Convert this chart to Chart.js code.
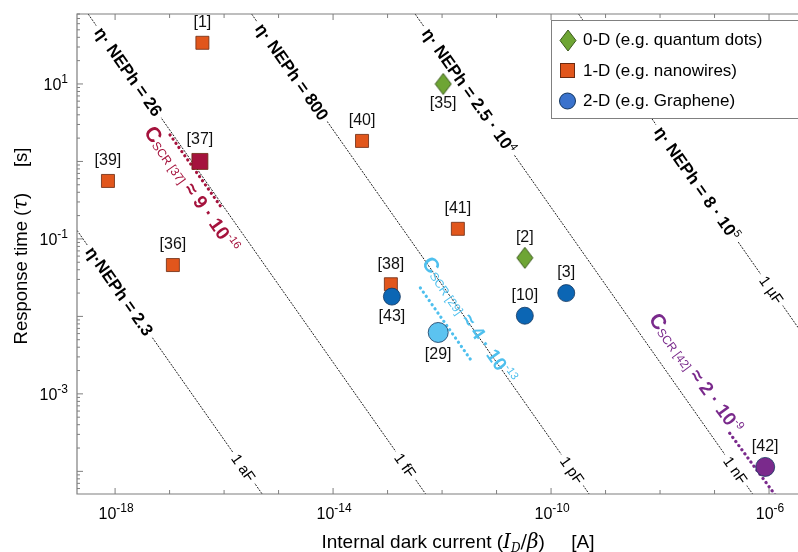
<!DOCTYPE html>
<html>
<head>
<meta charset="utf-8">
<script src="https://cdn.jsdelivr.net/npm/chart.js@4.4.1/dist/chart.umd.min.js"></script>
<style>
  html, body { margin: 0; padding: 0; background: #fff; overflow: hidden; }
  canvas { display: block; }
</style>
</head>
<body>
<canvas id="chart" width="798" height="552"></canvas>
<script>
// ── Data ──
// 0-D (quantum dots)
const refs0D = ['[35]', '[2]'];
const current0D = [1.05e-12, 3.3e-11];
const tau0D = [10, 0.057];
const side0D = [-1, 1];           // 1 = label above, -1 = below

// 1-D (nanowires)
const refs1D = ['[1]', '[39]', '[37]', '[36]', '[40]', '[41]', '[38]'];
const current1D = [4.0e-17, 7.4e-19, 3.6e-17, 1.15e-17, 3.4e-14, 1.95e-12, 1.15e-13];
const tau1D = [34, 0.56, 1.0, 0.046, 1.84, 0.135, 0.026];
const side1D = [1, 1, 1, 1, 1, 1, 1];

// 2-D (graphene)
const refs2D = ['[43]', '[3]', '[10]', '[29]', '[42]'];
const current2D = [1.2e-13, 1.9e-10, 3.3e-11, 8.5e-13, 8.5e-7];
const tau2D = [0.018, 0.020, 0.0102, 0.0062, 1.14e-4];
const side2D = [-1, 1, 1, -1, 1];

// iso-capacitance lines (end points)
const capNames = ['1 aF', '1 fF', '1 pF', '1 nF', '1 µF'];
const nephMantissa = ['2.3', '26', '800', '2.5 · 10', '8 · 10'];
const nephExp = ['', '', '', '4', '5'];
const nephPrefix = ['η·NEPh = ', 'η· NEPh = ', 'η· NEPh = ', 'η· NEPh = ', 'η· NEPh = '];
const capStartI = [2.0e-19, 3.2e-19, 3.2e-16, 3.2e-13, 3.2e-10];
const capStartTau = [0.129, 80, 80, 80, 80];
const capEndI = [5.0e-16, 5.0e-13, 5.0e-10, 5.0e-7, 3.4e-6];
const capEndTau = [5.1e-5, 5.1e-5, 5.1e-5, 5.1e-5, 7.2e-3];

// space-charge-region capacitance estimates
const scrRefs = ['[37]', '[29]', '[42]'];
const scrMantissa = ['9', '4', '2'];
const scrExp = ['-16', '-13', '-9'];
const scrStartI = [1.02e-17, 4.0e-13, 1.9e-7];
const scrStartTau = [2.2, 0.0233, 3.1e-4];
const scrEndI = [9.1e-17, 3.7e-12, 1.4e-6];
const scrEndTau = [0.25, 2.5e-3, 4.6e-5];
const scrLabelI = [2.6e-17, 3.2e-12, 4.6e-8];
const scrLabelTau = [0.44, 0.009, 1.86e-3];

// axis ranges and labelled decades
const X_MIN = 2.0e-19, X_MAX = 3.4e-6;
const Y_MIN = 5.1e-5, Y_MAX = 80;
const xLabelExp = [-18, -14, -10, -6];
const yLabelExp = [1, -1, -3];

// ── Styling ──
const FONT = '"Liberation Sans", Arial, sans-serif';
const ORANGE = '#e1561c', CRIMSON = '#a5133d', GREEN = '#6ea534';
const BLUE = '#0c66b4', LIGHTBLUE = '#5cc3f0', PURPLE = '#7a2a8c', LEGEND_BLUE = '#3a72cc';
const scrColors = [CRIMSON, '#4fc0ee', PURPLE];
const nephT = [0.23, 0.12, 0.12, 0.16, 0.54];
const capT = [0.90, 0.94, 0.95, 0.95, 0.88];

const fill1D = refs1D.map(r => r === '[37]' ? CRIMSON : ORANGE);
const size1D = refs1D.map(r => r === '[37]' ? 11.3 : 9.2);
const fill2D = refs2D.map(r => r === '[29]' ? LIGHTBLUE : r === '[42]' ? PURPLE : BLUE);
const size2D = refs2D.map(r => r === '[29]' ? 10 : r === '[42]' ? 9.5 : 8.5);

function makeDiamond(w, h, fill, stroke) {
    const c = document.createElement('canvas');
    c.width = w + 2; c.height = h + 2;
    const g = c.getContext('2d');
    g.beginPath();
    g.moveTo(c.width / 2, 1);
    g.lineTo(c.width - 1, c.height / 2);
    g.lineTo(c.width / 2, c.height - 1);
    g.lineTo(1, c.height / 2);
    g.closePath();
    g.fillStyle = fill; g.fill();
    g.lineWidth = 1; g.strokeStyle = stroke; g.stroke();
    return c;
}
const diamond = makeDiamond(16, 21, GREEN, '#3b5a1c');

// rich text drawn centred on (x, y) and rotated by angle
function drawRich(ctx, parts, x, y, angle, base, bg) {
    ctx.save();
    ctx.translate(x, y);
    ctx.rotate(angle);
    let total = 0;
    parts.forEach(p => { ctx.font = p.font; p.w = ctx.measureText(p.t).width; total += p.w; });
    if (bg) {
        ctx.fillStyle = '#fff';
        ctx.fillRect(-total / 2 - bg, -9, total + 2 * bg, 18);
    }
    let cx = -total / 2;
    ctx.textBaseline = 'alphabetic';
    ctx.textAlign = 'left';
    parts.forEach(p => {
        ctx.font = p.font;
        ctx.fillStyle = p.color || '#000';
        ctx.fillText(p.t, cx, base + (p.dy || 0));
        cx += p.w;
    });
    ctx.restore();
}

function linePixels(chart, i1, t1, i2, t2) {
    const xs = chart.scales.x, ys = chart.scales.y;
    return [xs.getPixelForValue(i1), ys.getPixelForValue(t1), xs.getPixelForValue(i2), ys.getPixelForValue(t2)];
}

// ── Datasets ──
const datasets = [];
capNames.forEach((name, i) => {
    datasets.push({
        label: name,
        data: [{ x: capStartI[i], y: capStartTau[i] }, { x: capEndI[i], y: capEndTau[i] }],
        showLine: true, pointRadius: 0, borderColor: '#1e1e1e', borderWidth: 1,
        borderDash: [2, 1.2], order: 100
    });
});
scrRefs.forEach((r, i) => {
    datasets.push({
        label: 'C_SCR ' + r,
        data: [{ x: scrStartI[i], y: scrStartTau[i] }, { x: scrEndI[i], y: scrEndTau[i] }],
        showLine: true, pointRadius: 0, borderColor: scrColors[i], borderWidth: 3.2,
        borderDash: [0.1, 5], borderCapStyle: 'round', order: 50
    });
});
datasets.push({
    label: '1-D', data: current1D.map((v, i) => ({ x: v, y: tau1D[i] })),
    pointStyle: 'rect', pointRadius: size1D, backgroundColor: fill1D,
    borderColor: '#6b2a10', borderWidth: 0.8, order: 3
});
datasets.push({
    label: '0-D', data: current0D.map((v, i) => ({ x: v, y: tau0D[i] })),
    pointStyle: diamond, pointRadius: 10, order: 2
});
datasets.push({
    label: '2-D', data: current2D.map((v, i) => ({ x: v, y: tau2D[i] })),
    pointStyle: 'circle', pointRadius: size2D, backgroundColor: fill2D,
    borderColor: '#13365e', borderWidth: 0.8, order: 1
});

// ── Overlay: ticks, labels, legend ──
const overlay = {
    id: 'overlay',
    afterDatasetDraw(chart, args) {
        if (args.index !== 0) return;
        // labels on the iso-capacitance lines (drawn before the markers)
        const ctx = chart.ctx;
        capNames.forEach((name, i) => {
            const [x1, y1, x2, y2] = linePixels(chart, capStartI[i], capStartTau[i], capEndI[i], capEndTau[i]);
            const ang = Math.atan2(y2 - y1, x2 - x1);
            const bold = 'bold 17px ' + FONT;
            const np = [{ t: nephPrefix[i] + nephMantissa[i], font: bold }];
            if (nephExp[i]) np.push({ t: nephExp[i], font: '11px ' + FONT, dy: -7 });
            drawRich(ctx, np, x1 + nephT[i] * (x2 - x1), y1 + nephT[i] * (y2 - y1), ang, 6, 4);
            drawRich(ctx, [{ t: name, font: '15px ' + FONT }],
                x1 + capT[i] * (x2 - x1), y1 + capT[i] * (y2 - y1), ang, 5.5, 4);
        });
    },
    afterDraw(chart) {
        const ctx = chart.ctx, a = chart.chartArea;
        const xs = chart.scales.x, ys = chart.scales.y;

        // space-charge capacitance labels
        scrRefs.forEach((r, i) => {
            const [x1, y1, x2, y2] = linePixels(chart, scrStartI[i], scrStartTau[i], scrEndI[i], scrEndTau[i]);
            const ang = Math.atan2(y2 - y1, x2 - x1);
            const c = scrColors[i];
            drawRich(ctx, [
                { t: 'C', font: 'bold 21px ' + FONT, color: c },
                { t: 'SCR ' + r, font: '12px ' + FONT, color: c, dy: 1 },
                { t: ' ≈ ' + scrMantissa[i] + ' · 10', font: 'bold 19px ' + FONT, color: c },
                { t: scrExp[i], font: '11px ' + FONT, color: c, dy: -8 }
            ], xs.getPixelForValue(scrLabelI[i]), ys.getPixelForValue(scrLabelTau[i]), ang, 7, 0);
        });

        // reference labels next to markers
        ctx.font = '16px ' + FONT;
        ctx.fillStyle = '#111';
        ctx.textAlign = 'center';
        ctx.textBaseline = 'middle';
        const put = (refs, cur, tau, side) => refs.forEach((r, i) => {
            const big = (r === '[37]' || r === '[29]') ? 2 : 0;
            ctx.fillText(r, xs.getPixelForValue(cur[i]), ys.getPixelForValue(tau[i]) - side[i] * (20 + big));
        });
        put(refs0D, current0D, tau0D, side0D);
        put(refs1D, current1D, tau1D, side1D);
        put(refs2D, current2D, tau2D, side2D);

        // axes frame (left, bottom, top)
        ctx.save();
        ctx.strokeStyle = '#7f7f7f';
        ctx.lineWidth = 1.2;
        ctx.beginPath();
        ctx.moveTo(a.right + 2, a.top); ctx.lineTo(a.left, a.top);
        ctx.lineTo(a.left, a.bottom); ctx.lineTo(a.right + 2, a.bottom);
        ctx.stroke();

        // inward tick marks
        ctx.lineWidth = 1;
        ctx.beginPath();
        for (let e = -19; e <= -5; e++) {
            const px = xs.getPixelForValue(Math.pow(10, e));
            if (px < a.left || px > a.right) continue;
            const len = xLabelExp.includes(e) ? 6 : 4;
            ctx.moveTo(px, a.bottom); ctx.lineTo(px, a.bottom - len);
            ctx.moveTo(px, a.top); ctx.lineTo(px, a.top + len);
        }
        for (let e = -5; e <= 1; e++) {
            for (let m = 1; m <= 9; m++) {
                const v = m * Math.pow(10, e);
                const py = ys.getPixelForValue(v);
                if (py < a.top || py > a.bottom) continue;
                const len = m === 1 ? 6 : 3;
                ctx.moveTo(a.left, py); ctx.lineTo(a.left + len, py);
            }
        }
        ctx.stroke();
        ctx.restore();

        // tick labels
        xLabelExp.forEach(e => {
            drawRich(ctx, [{ t: '10', font: '16px ' + FONT }, { t: String(e), font: '12px ' + FONT, dy: -7 }],
                xs.getPixelForValue(Math.pow(10, e)) + 1, 513, 0, 6, 0);
        });
        yLabelExp.forEach(e => {
            ctx.save();
            ctx.font = '12px ' + FONT;
            const ws = ctx.measureText(String(e)).width;
            ctx.font = '16px ' + FONT;
            const wb = ctx.measureText('10').width;
            ctx.restore();
            drawRich(ctx, [{ t: '10', font: '16px ' + FONT }, { t: String(e), font: '12px ' + FONT, dy: -7 }],
                68 - (wb + ws) / 2, ys.getPixelForValue(Math.pow(10, e)), 0, 6, 0);
        });

        // axis titles
        const serifI = 'italic 20px "DejaVu Serif", "Liberation Serif", serif';
        drawRich(ctx, [
            { t: 'Internal dark current (', font: '19px ' + FONT },
            { t: 'I', font: serifI },
            { t: 'D', font: 'italic 12px "DejaVu Serif", serif', dy: 4 },
            { t: '/', font: '19px "DejaVu Serif", serif' },
            { t: 'β', font: serifI },
            { t: ')     [A]', font: '19px ' + FONT }
        ], 458, 541, 0, 7, 0);
        drawRich(ctx, [
            { t: 'Response time (', font: '18.5px ' + FONT },
            { t: 'τ', font: 'italic 19.5px "DejaVu Serif", "Liberation Serif", serif' },
            { t: ')     [s]', font: '18.5px ' + FONT }
        ], 20, 246, -Math.PI / 2, 6.5, 0);

        // legend box
        ctx.save();
        ctx.fillStyle = '#fff';
        ctx.strokeStyle = '#808080';
        ctx.lineWidth = 1;
        ctx.fillRect(551, 20, 260, 98);
        ctx.strokeRect(551.5, 20.5, 260, 98);
        ctx.drawImage(makeDiamond(16, 21, GREEN, '#3b5a1c'), 559, 29);
        ctx.fillStyle = ORANGE; ctx.strokeStyle = '#6b2a10';
        ctx.fillRect(560, 63, 15, 15); ctx.strokeRect(560.5, 63.5, 14, 14);
        ctx.beginPath(); ctx.arc(567.5, 101, 8, 0, Math.PI * 2);
        ctx.fillStyle = LEGEND_BLUE; ctx.fill(); ctx.strokeStyle = '#13365e'; ctx.stroke();
        ctx.fillStyle = '#000';
        ctx.font = '17px ' + FONT;
        ctx.textAlign = 'left'; ctx.textBaseline = 'middle';
        ctx.fillText('0-D (e.g. quantum dots)', 583, 40);
        ctx.fillText('1-D (e.g. nanowires)', 583, 71);
        ctx.fillText('2-D (e.g. Graphene)', 583, 101);
        ctx.restore();
    }
};

new Chart(document.getElementById('chart'), {
    type: 'scatter',
    data: { datasets: datasets },
    options: {
        responsive: false,
        animation: false,
        layout: { autoPadding: false, padding: { top: 14, left: 0, right: 0, bottom: 0 } },
        plugins: { legend: { display: false }, tooltip: { enabled: false } },
        scales: {
            x: {
                type: 'logarithmic', min: X_MIN, max: X_MAX,
                grid: { display: false }, border: { display: false },
                ticks: { display: false },
                afterFit: s => { s.height = 58; s.paddingLeft = 0; s.paddingRight = 0; }
            },
            y: {
                type: 'logarithmic', min: Y_MIN, max: Y_MAX,
                grid: { display: false }, border: { display: false },
                ticks: { display: false },
                afterFit: s => { s.width = 77; s.paddingTop = 0; s.paddingBottom = 0; }
            }
        }
    },
    plugins: [overlay]
});
</script>
</body>
</html>
